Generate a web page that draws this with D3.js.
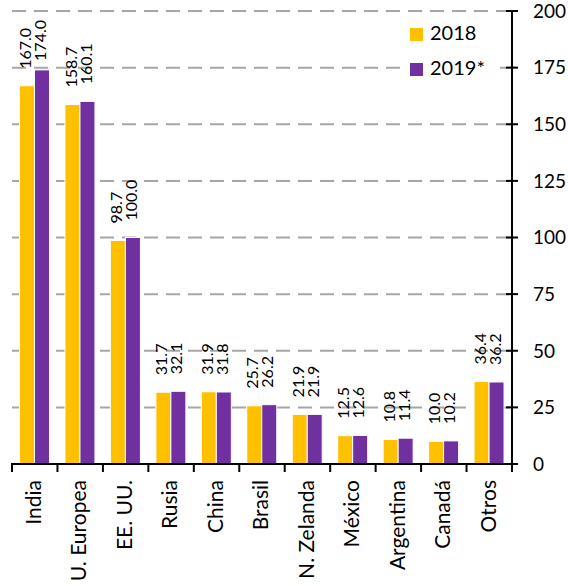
<!DOCTYPE html>
<html>
<head>
<meta charset="utf-8">
<script src="https://cdn.jsdelivr.net/npm/d3@7"></script>
<style>
html,body{margin:0;padding:0;background:#fff;}
svg{display:block;font-family:Lato,"Open Sans",sans-serif;}
</style>
</head>
<body>
<svg id="chart" width="568" height="586"></svg>
<script>
const categories = ["India","U. Europea","EE. UU.","Rusia","China","Brasil","N. Zelanda","México","Argentina","Canadá","Otros"];
const seriesNames = ["2018","2019*"];
const values2018 = [167.0,158.7,98.7,31.7,31.9,25.7,21.9,12.5,10.8,10.0,36.4];
const values2019 = [174.0,160.1,100.0,32.1,31.8,26.2,21.9,12.6,11.4,10.2,36.2];
const yTicks = [0,25,50,75,100,125,150,175,200];
const colors = ["#FFC000","#7030A0"];

const svg = d3.select("#chart");
const x0 = d3.scaleBand().domain(categories).range([12,512]).padding(0);
const x1 = d3.scaleBand().domain(seriesNames).range([7.5,37.5]).padding(0);
const y = d3.scaleLinear().domain([0,200]).range([464,11]);

// gridlines
svg.append("g").selectAll("line").data(yTicks.filter(d=>d>0)).join("line")
  .attr("x1",12).attr("x2",512)
  .attr("y1",d=>y(d)).attr("y2",d=>y(d))
  .attr("stroke","#a6a6a6").attr("stroke-width",2)
  .attr("stroke-dasharray","14,8");

// bars
const data = categories.map((c,i)=>({cat:c, vals:[values2018[i],values2019[i]]}));
const groups = svg.append("g").selectAll("g").data(data).join("g")
  .attr("transform",d=>`translate(${x0(d.cat)},0)`);
groups.selectAll("rect").data(d=>d.vals.map((v,j)=>({v,s:seriesNames[j],j}))).join("rect")
  .attr("x",d=>x1(d.s)).attr("width",x1.bandwidth())
  .attr("y",d=>y(d.v)).attr("height",d=>y(0)-y(d.v))
  .attr("fill",d=>colors[d.j]).attr("stroke","#fff").attr("stroke-width",1);

// data labels
groups.selectAll("text").data(d=>d.vals.map((v,j)=>({v,s:seriesNames[j],j}))).join("text")
  .attr("font-size",16).attr("fill","#000")
  .attr("text-anchor","start").attr("dominant-baseline","middle")
  .text(d=>d.v.toFixed(1))
  .each(function(d){
    const len = this.getComputedTextLength();
    const cx = x1(d.s)+x1.bandwidth()/2;
    const yy = Math.max(y(d.v)-17, 20+len);
    d3.select(this).attr("transform",`translate(${cx},${yy}) rotate(-90)`);
  });

// x axis
const xa = svg.append("g");
xa.append("line").attr("x1",11).attr("x2",513).attr("y1",464).attr("y2",464)
  .attr("stroke","#000").attr("stroke-width",2);
const bounds = categories.map(c=>x0(c)).concat([x0.range()[1]]);
xa.selectAll("line.t").data(bounds).join("line").attr("class","t")
  .attr("x1",d=>d).attr("x2",d=>d).attr("y1",464).attr("y2",472)
  .attr("stroke","#000").attr("stroke-width",2);
xa.selectAll("text").data(categories).join("text")
  .attr("font-size",21).attr("fill","#000")
  .attr("text-anchor","end").attr("dominant-baseline","middle")
  .attr("transform",d=>`translate(${x0(d)+x0.bandwidth()/2+1},480) rotate(-90)`)
  .text(d=>d);

// y axis (right)
const ya = svg.append("g");
ya.append("line").attr("x1",512).attr("x2",512).attr("y1",y(200)).attr("y2",y(0)+1)
  .attr("stroke","#000").attr("stroke-width",2);
ya.selectAll("line.t").data(yTicks).join("line").attr("class","t")
  .attr("x1",506).attr("x2",518).attr("y1",d=>y(d)).attr("y2",d=>y(d))
  .attr("stroke","#000").attr("stroke-width",2);
ya.selectAll("text").data(yTicks).join("text")
  .attr("font-size",19).attr("fill","#000")
  .attr("x",533).attr("y",d=>y(d)+2).attr("dominant-baseline","middle")
  .text(d=>d);

// legend
const lg = svg.append("g");
lg.append("rect").attr("x",403).attr("y",14).attr("width",97).attr("height",74).attr("fill","#fff");
const li = lg.selectAll("g").data(seriesNames).join("g")
  .attr("transform",(d,i)=>`translate(410,${28+i*35})`);
li.append("rect").attr("width",13).attr("height",13).attr("fill",(d,i)=>colors[i]);
li.append("text").attr("x",20).attr("y",7).attr("dominant-baseline","middle")
  .attr("font-size",20).attr("fill","#000").text(d=>d);
</script>
</body>
</html>
